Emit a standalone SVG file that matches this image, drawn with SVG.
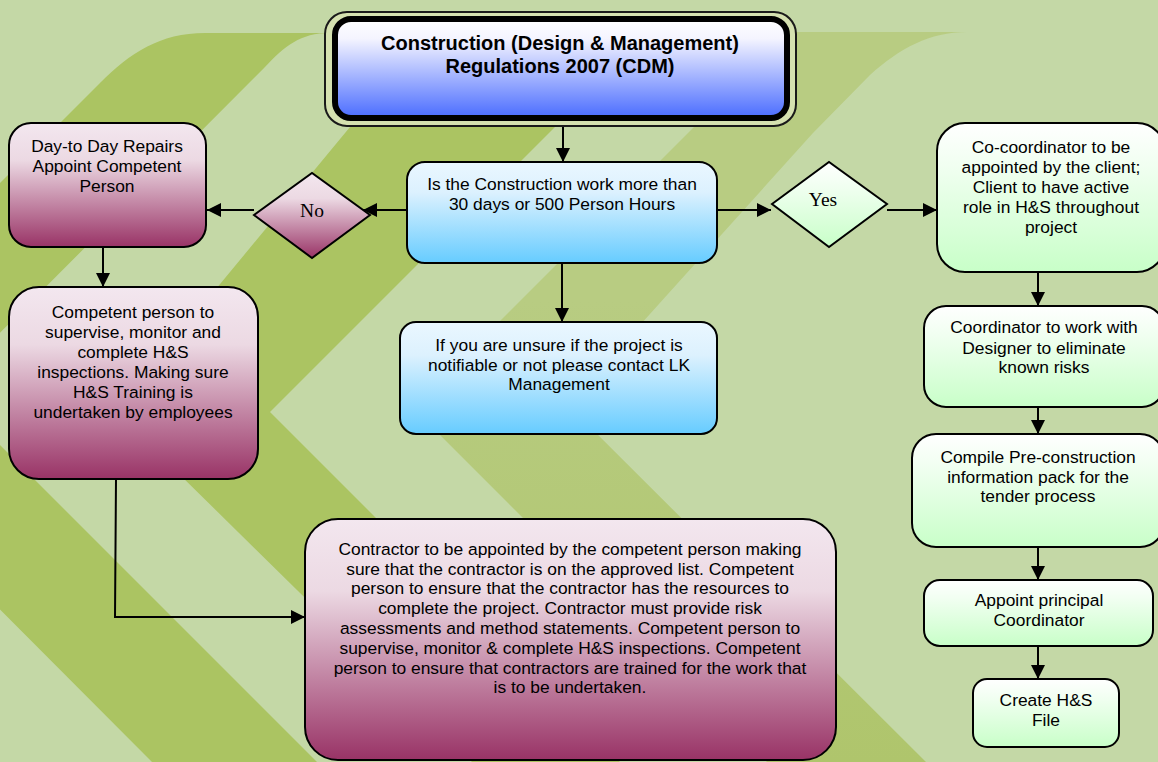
<svg xmlns="http://www.w3.org/2000/svg" width="1158" height="762" viewBox="0 0 1158 762">
<defs>
<linearGradient id="gCDM" x1="0" y1="0" x2="0" y2="1"><stop offset="0" stop-color="#ffffff"/><stop offset="0.2" stop-color="#f4f4ff"/><stop offset="1" stop-color="#4a6cff"/></linearGradient>
<linearGradient id="gBlue" x1="0" y1="0" x2="0" y2="1"><stop offset="0" stop-color="#eaf7ff"/><stop offset="0.3" stop-color="#dcf1fe"/><stop offset="1" stop-color="#66ccff"/></linearGradient>
<linearGradient id="gGreen" x1="0" y1="0" x2="0" y2="1"><stop offset="0" stop-color="#ffffff"/><stop offset="0.3" stop-color="#f0fff0"/><stop offset="1" stop-color="#c8ffc8"/></linearGradient>
<linearGradient id="gMaroon" x1="0" y1="0" x2="0" y2="1"><stop offset="0" stop-color="#f3e7ef"/><stop offset="0.3" stop-color="#ecd9e3"/><stop offset="1" stop-color="#993366"/></linearGradient>
<linearGradient id="gBandB" gradientUnits="userSpaceOnUse" x1="0" y1="300" x2="0" y2="762"><stop offset="0" stop-color="#b8cc82"/><stop offset="1" stop-color="#afc56c"/></linearGradient>
<marker id="arr" markerUnits="userSpaceOnUse" markerWidth="15" markerHeight="15" refX="14" refY="7" orient="auto"><path d="M0,0 L14,7 L0,14 Z" fill="#000"/></marker>
<style>
.box{stroke:#000;stroke-width:2}
.t{font-family:"Liberation Sans",Arial,sans-serif;font-size:17.4px;fill:#000;text-anchor:middle}
.tb{font-family:"Liberation Sans",Arial,sans-serif;font-size:20px;font-weight:bold;fill:#000;text-anchor:middle}
.ts{font-family:"Liberation Serif","Times New Roman",serif;font-size:19.5px;fill:#000;text-anchor:middle}
.c{fill:none;stroke:#000;stroke-width:2}
</style>
</defs>
<g id="background">
<rect x="0" y="0" width="1158" height="762" fill="#c4d8a6"/>
<path d="M0,183 L100,83 C130,53 160,33 205,33 L330,33 C300,33 285,46 265,67 L-56,389 L317,762 L152,762 L-213,396 Z" fill="#abc462"/>
<path d="M115,411 L350,127 L465,33 L650,33 L555,127 L270,412 L620,762 L472,762 Z" fill="#abc462"/>
<path d="M694,127 L700,32 L967,32 C930,32 900,48 870,75 L813,133 L568,405 L926,762 L767,762 L413,408 Z" fill="url(#gBandB)"/>
</g>
<g id="connectors">
<path class="c" d="M563,127 L563,162" marker-end="url(#arr)"/>
<path class="c" d="M407,210 L363,210" marker-end="url(#arr)"/>
<path class="c" d="M254,210 L207,210" marker-end="url(#arr)"/>
<path class="c" d="M103,247 L103,287" marker-end="url(#arr)"/>
<path class="c" d="M116,479 L115,617 L305,617" marker-end="url(#arr)"/>
<path class="c" d="M562,263 L562,322" marker-end="url(#arr)"/>
<path class="c" d="M717,210 L771,210" marker-end="url(#arr)"/>
<path class="c" d="M887,210 L937,210" marker-end="url(#arr)"/>
<path class="c" d="M1038,272 L1038,306" marker-end="url(#arr)"/>
<path class="c" d="M1038,407 L1038,434" marker-end="url(#arr)"/>
<path class="c" d="M1038,547 L1038,580" marker-end="url(#arr)"/>
<path class="c" d="M1038,646 L1038,679" marker-end="url(#arr)"/>
</g>
<g id="n-cdm">
<rect x="325" y="12" width="471" height="114" rx="22" fill="#d5e1b0" stroke="#1a1a1a" stroke-width="2"/>
<rect x="335" y="19" width="452" height="99" rx="16" fill="url(#gCDM)" stroke="#000" stroke-width="6"/>
<text class="tb" x="560" y="50">Construction (Design &amp; Management)</text>
<text class="tb" x="560" y="73">Regulations 2007 (CDM)</text>
</g>
<g id="n-decision">
<rect class="box" x="407" y="162" width="310" height="101" rx="18" fill="url(#gBlue)"/>
<text class="t" x="562" y="190">Is the Construction work more than</text>
<text class="t" x="562" y="210">30 days or 500 Person Hours</text>
</g>
<g id="n-no">
<path class="box" d="M254,215 L312,173 L370,215 L312,258 Z" fill="url(#gMaroon)"/>
<text class="ts" x="312" y="217">No</text>
</g>
<g id="n-yes">
<path class="box" d="M772,204 L829,162 L887,204 L829,247 Z" fill="url(#gGreen)"/>
<text class="ts" x="823" y="206">Yes</text>
</g>
<g id="n-daytoday">
<rect class="box" x="9" y="123" width="197" height="124" rx="22" fill="url(#gMaroon)"/>
<text class="t" x="107" y="152">Day-to Day Repairs</text>
<text class="t" x="107" y="172">Appoint Competent</text>
<text class="t" x="107" y="192">Person</text>
</g>
<g id="n-competent">
<rect class="box" x="9" y="287" width="249" height="192" rx="30" fill="url(#gMaroon)"/>
<text class="t" x="133" y="318">Competent person to</text>
<text class="t" x="133" y="338">supervise, monitor and</text>
<text class="t" x="133" y="358">complete H&amp;S</text>
<text class="t" x="133" y="378">inspections. Making sure</text>
<text class="t" x="133" y="398">H&amp;S Training is</text>
<text class="t" x="133" y="418">undertaken by employees</text>
</g>
<g id="n-unsure">
<rect class="box" x="400" y="322" width="317" height="112" rx="16" fill="url(#gBlue)"/>
<text class="t" x="559" y="351">If you are unsure if the project is</text>
<text class="t" x="559" y="371">notifiable or not please contact LK</text>
<text class="t" x="559" y="390">Management</text>
</g>
<g id="n-contractor">
<rect class="box" x="305" y="519" width="531" height="241" rx="33" fill="url(#gMaroon)"/>
<text class="t" x="570" y="555">Contractor to be appointed by the competent person making</text>
<text class="t" x="570" y="575">sure that the contractor is on the approved list. Competent</text>
<text class="t" x="570" y="594">person to ensure that the contractor has the resources to</text>
<text class="t" x="570" y="614">complete the project. Contractor must provide risk</text>
<text class="t" x="570" y="634">assessments and method statements. Competent person to</text>
<text class="t" x="570" y="654">supervise, monitor &amp; complete H&amp;S inspections. Competent</text>
<text class="t" x="570" y="674">person to ensure that contractors are trained for the work that</text>
<text class="t" x="570" y="693">is to be undertaken.</text>
</g>
<g id="n-cocoordinator">
<rect class="box" x="937" y="123" width="228" height="149" rx="28" fill="url(#gGreen)"/>
<text class="t" x="1051" y="153">Co-coordinator to be</text>
<text class="t" x="1051" y="173">appointed by the client;</text>
<text class="t" x="1051" y="193">Client to have active</text>
<text class="t" x="1051" y="213">role in H&amp;S throughout</text>
<text class="t" x="1051" y="233">project</text>
</g>
<g id="n-coordinator">
<rect class="box" x="924" y="306" width="240" height="101" rx="22" fill="url(#gGreen)"/>
<text class="t" x="1044" y="333">Coordinator to work with</text>
<text class="t" x="1044" y="354">Designer to eliminate</text>
<text class="t" x="1044" y="373">known risks</text>
</g>
<g id="n-compile">
<rect class="box" x="912" y="434" width="252" height="113" rx="24" fill="url(#gGreen)"/>
<text class="t" x="1038" y="463">Compile Pre-construction</text>
<text class="t" x="1038" y="483">information pack for the</text>
<text class="t" x="1038" y="502">tender process</text>
</g>
<g id="n-appoint">
<rect class="box" x="924" y="580" width="229" height="66" rx="16" fill="url(#gGreen)"/>
<text class="t" x="1039" y="606">Appoint principal</text>
<text class="t" x="1039" y="626">Coordinator</text>
</g>
<g id="n-create">
<rect class="box" x="973" y="679" width="146" height="68" rx="14" fill="url(#gGreen)"/>
<text class="t" x="1046" y="706">Create H&amp;S</text>
<text class="t" x="1046" y="726">File</text>
</g>
</svg>
